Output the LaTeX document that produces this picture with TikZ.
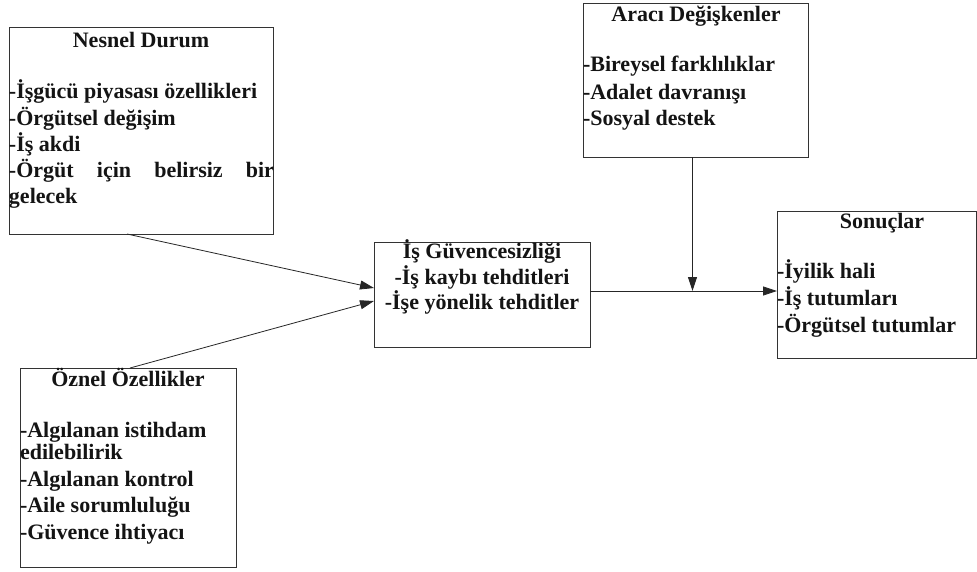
\documentclass[tikz,border=0pt]{standalone}
\usepackage{fontspec}
\setmainfont{Liberation Serif}
\usetikzlibrary{arrows.meta}
\tikzset{
  box/.style={draw=black!80, line width=1pt, rectangle, inner sep=0pt, outer sep=0pt},
  txt/.style={inner sep=0pt, outer sep=0pt, text=black!92,
    font=\bfseries\fontsize{22}{26}\selectfont},
  item/.style={txt, anchor=base west},
  head/.style={txt, anchor=base},
  link/.style={draw=black!85, line width=0.8pt,
    -{Triangle[length=14pt,width=9pt]}}
}
\begin{document}
\begin{tikzpicture}[x=1pt,y=-1pt]
\useasboundingbox (0,0) rectangle (977,571);
\fill[white] (0,0) rectangle (977,571);

% boxes
\node[box, minimum width=264pt, minimum height=207pt] (nesnel) at (141,130.5) {};
\node[box, minimum width=225pt, minimum height=154pt] (araci) at (695.5,80) {};
\node[box, minimum width=216pt, minimum height=105pt] (isg) at (482,294.5) {};
\node[box, minimum width=199pt, minimum height=147pt] (sonuc) at (876.5,284.5) {};
\node[box, minimum width=216pt, minimum height=199pt] (oznel) at (128,467.5) {};

% Nesnel Durum
\node[head] (n0) at (141,47) {Nesnel Durum};
\node[item] (n1) at (9,98) {-İşgücü piyasası özellikleri};
\node[item] (n2) at (9,125) {-Örgütsel değişim};
\node[item] (n3) at (9,151) {-İş akdi};
\node[item] (n4) at (9,177) {\makebox[265pt][s]{-Örgüt için belirsiz bir}};
\node[item] (n5) at (9,203) {gelecek};

% Aracı Değişkenler
\node[head] (a0) at (696,21) {Aracı Değişkenler};
\node[item] (a1) at (583,71) {-Bireysel farklılıklar};
\node[item] (a2) at (583,99) {-Adalet davranışı};
\node[item] (a3) at (583,125) {-Sosyal destek};

% İş Güvencesizliği
\node[head] (g0) at (482,258) {İş Güvencesizliği};
\node[head] (g1) at (482,284) {-İş kaybı tehditleri};
\node[head] (g2) at (482,309) {-İşe yönelik tehditler};

% Sonuçlar
\node[head] (s0) at (882,228) {Sonuçlar};
\node[item] (s1) at (777,278) {-İyilik hali};
\node[item] (s2) at (777,305) {-İş tutumları};
\node[item] (s3) at (777,332) {-Örgütsel tutumlar};

% Öznel Özellikler
\node[head] (o0) at (128,386) {Öznel Özellikler};
\node[item] (o1) at (20,437) {-Algılanan istihdam};
\node[item] (o2) at (20,459) {edilebilirik};
\node[item] (o3) at (20,486) {-Algılanan kontrol};
\node[item] (o4) at (20,512) {-Aile sorumluluğu};
\node[item] (o5) at (20,539) {-Güvence ihtiyacı};

% connectors
\coordinate (j) at ([yshift=3.5pt]isg.east);
\draw[link] ([xshift=-14pt]nesnel.south) -- ([yshift=6.5pt]isg.west);
\draw[link] ([xshift=2pt]oznel.north) -- ([yshift=-6.5pt]isg.west);
\draw[link] (j) -- (j -| sonuc.west);
\draw[link] ([xshift=-3pt]araci.south) -- ([xshift=-3pt]araci.south |- j);
\end{tikzpicture}
\end{document}
